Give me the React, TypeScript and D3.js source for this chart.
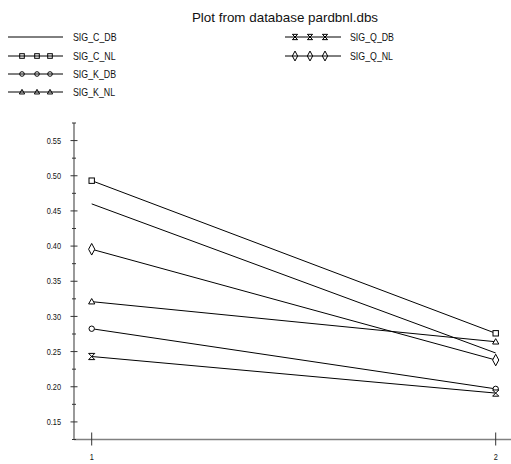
import React from "react";
import * as d3 from "d3";

// Series sampled at the two x positions
const xValues = [1, 2];
const seriesNames = ["SIG_C_DB", "SIG_C_NL", "SIG_K_DB", "SIG_K_NL", "SIG_Q_DB", "SIG_Q_NL"];
const SIG_C_DB = [0.46, 0.248];
const SIG_C_NL = [0.493, 0.276];
const SIG_K_DB = [0.2825, 0.197];
const SIG_K_NL = [0.321, 0.264];
const SIG_Q_DB = [0.243, 0.191];
const SIG_Q_NL = [0.3955, 0.238];
const seriesValues = [SIG_C_DB, SIG_C_NL, SIG_K_DB, SIG_K_NL, SIG_Q_DB, SIG_Q_NL];
const markerKinds = ["none", "square", "circle", "triangle", "hourglass", "diamond"];
const yTicks = [0.15, 0.2, 0.25, 0.3, 0.35, 0.4, 0.45, 0.5, 0.55];
const yMinorTicks = [0.125, 0.175, 0.225, 0.275, 0.325, 0.375, 0.425, 0.475, 0.525, 0.575];
const xTicks = [1, 2];
const title = "Plot from database pardbnl.dbs";

const W = 511;
const H = 464;
const sans = "'Liberation Sans', Arial, sans-serif";

// Condensed text: regular sans squeezed horizontally
function NarrowText({
  x,
  y,
  size,
  anchor = "start",
  children,
}: {
  x: number;
  y: number;
  size: number;
  anchor?: "start" | "middle" | "end";
  children: React.ReactNode;
}) {
  return (
    <g transform={`translate(${x},${y}) scale(0.8,1)`}>
      <text x={0} y={0} textAnchor={anchor} fontFamily={sans} fontSize={size} fill="#111">
        {children}
      </text>
    </g>
  );
}

function Marker({
  kind,
  x,
  y,
  r = 3,
  fill = "white",
}: {
  kind: string;
  x: number;
  y: number;
  r?: number;
  fill?: string;
}) {
  const s = { fill, stroke: "black", strokeWidth: 1 };
  if (kind === "square") return <rect x={x - r} y={y - r} width={2 * r} height={2 * r} {...s} />;
  if (kind === "circle") return <circle cx={x} cy={y} r={r} {...s} />;
  if (kind === "triangle")
    return <path d={`M${x},${y - r * 1.15}L${x + r * 1.15},${y + r * 0.85}L${x - r * 1.15},${y + r * 0.85}Z`} {...s} />;
  if (kind === "hourglass") {
    const a = r * 1.15;
    return <path d={`M${x - a},${y - a}L${x + a},${y - a}L${x - a},${y + a}L${x + a},${y + a}Z`} {...s} />;
  }
  if (kind === "diamond")
    return (
      <path d={`M${x},${y - r * 2.15}L${x + r * 1.15},${y}L${x},${y + r * 2.15}L${x - r * 1.15},${y}Z`} {...s} />
    );
  return null;
}

export default function App() {
  const x = d3.scaleLinear().domain([1, 2]).range([91.7, 495.7]);
  const y = d3.scaleLinear().domain([0.125, 0.575]).range([439.5, 123]);
  const line = d3
    .line<number>()
    .x((_, i) => x(xValues[i]))
    .y((d) => y(d));

  const axisColor = "#808080";
  const legendRows = [37, 56, 74, 92];

  return (
    <svg width={W} height={H} style={{ position: "absolute", left: 0, top: 0 }}>
      <rect width={W} height={H} fill="white" />
      <text x={285} y={22} textAnchor="middle" fontFamily={sans} fontSize={13.4} fill="#111">
        {title}
      </text>

      {/* legend */}
      {seriesNames.map((name, i) => {
        const col = i < 4 ? 0 : 1;
        const row = i < 4 ? i : i - 4;
        const ly = legendRows[row];
        const x0 = col === 0 ? 8 : 285;
        const x1 = col === 0 ? 63 : 341;
        const mx = col === 0 ? [22, 37, 50] : [295, 310, 325];
        const tx = col === 0 ? 73 : 350;
        return (
          <g key={name}>
            <line x1={x0} x2={x1} y1={ly} y2={ly} stroke="black" strokeWidth={1} />
            {markerKinds[i] !== "none" &&
              mx.map((m) => <Marker key={m} kind={markerKinds[i]} x={m} y={ly} r={2.3} fill="none" />)}
            <NarrowText x={tx} y={ly + 4} size={11}>
              {name}
            </NarrowText>
          </g>
        );
      })}

      {/* axes */}
      <line x1={74} x2={74} y1={y(0.575)} y2={y(0.125)} stroke={axisColor} strokeWidth={1.6} />
      <line x1={74} x2={W} y1={y(0.125)} y2={y(0.125)} stroke={axisColor} strokeWidth={1.6} />
      {yTicks.map((t) => (
        <g key={t}>
          <line x1={70.5} x2={77.5} y1={y(t)} y2={y(t)} stroke="#333" strokeWidth={1} />
          <NarrowText x={61} y={y(t) + 3.2} size={9.2} anchor="end">
            {d3.format(".2f")(t)}
          </NarrowText>
        </g>
      ))}
      {yMinorTicks.map((t) => (
        <line key={t} x1={72} x2={76} y1={y(t)} y2={y(t)} stroke="#333" strokeWidth={1} />
      ))}
      {xTicks.map((t) => (
        <g key={t}>
          <line x1={x(t)} x2={x(t)} y1={432.5} y2={445.5} stroke="#333" strokeWidth={1} />
          <NarrowText x={x(t)} y={460} size={9.2} anchor="middle">
            {t}
          </NarrowText>
        </g>
      ))}

      {/* series */}
      {seriesValues.map((vals, i) => (
        <g key={seriesNames[i]}>
          <path d={line(vals) || ""} fill="none" stroke="black" strokeWidth={1} />
          {vals.map((v, j) => (
            <Marker key={j} kind={markerKinds[i]} x={x(xValues[j])} y={y(v)} r={2.7} />
          ))}
        </g>
      ))}
    </svg>
  );
}
